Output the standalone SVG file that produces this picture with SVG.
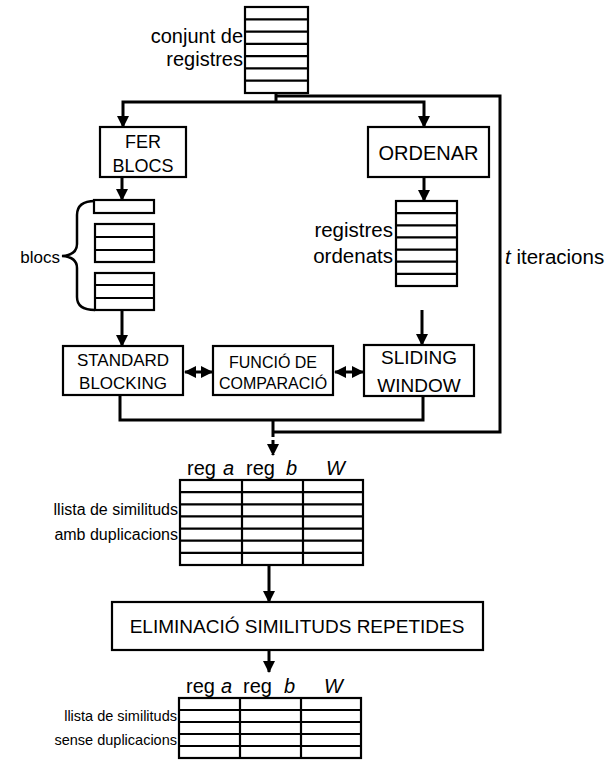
<svg xmlns="http://www.w3.org/2000/svg" width="607" height="760" viewBox="0 0 607 760">
<style>
.bx{fill:#fff;stroke:#000;stroke-width:2.2}
.cell{fill:#fff;stroke:#000;stroke-width:2.2}
.rw{stroke:#000;stroke-width:2.2}
.ln{fill:none;stroke:#000;stroke-width:3}
.t{font-family:"Liberation Sans",Arial,Helvetica,sans-serif;fill:#000}
.i{font-style:italic}
</style>
<defs>
<marker id="ah" markerUnits="userSpaceOnUse" markerWidth="12" markerHeight="12" refX="11" refY="6" orient="auto-start-reverse" viewBox="0 0 12 12">
<path d="M0,0 L12,6 L0,12 z" fill="#000"/>
</marker>
</defs>

<g id="connectors">
<path class="ln" d="M276 93 L276 102"/>
<path class="ln" d="M276 102 L123 102 L123 127" marker-end="url(#ah)"/>
<path class="ln" d="M276 102 L424 102 L424 127" marker-end="url(#ah)"/>
<path class="ln" d="M276 96 L500 96 L500 432 L273 432"/>
<path class="ln" d="M122 177 L122 200" marker-end="url(#ah)"/>
<path class="ln" d="M122 310 L122 346" marker-end="url(#ah)"/>
<path class="ln" d="M424 177 L424 201" marker-end="url(#ah)"/>
<path class="ln" d="M422 310 L422 345" marker-end="url(#ah)"/>
<path class="ln" d="M185 372 L212 372" marker-start="url(#ah)" marker-end="url(#ah)"/>
<path class="ln" d="M335 372 L363 372" marker-start="url(#ah)" marker-end="url(#ah)"/>
<path class="ln" d="M120 396 L120 420 L423 420 L423 396"/>
<path class="ln" d="M273 420 L273 433"/>
<path class="ln" d="M273 433 L273 455" stroke-dasharray="4 3" marker-end="url(#ah)"/>
<path class="ln" d="M269 566 L269 602" marker-end="url(#ah)"/>
<path class="ln" d="M269 650 L269 672" marker-end="url(#ah)"/>
<path fill="none" stroke="#000" stroke-width="2.5" d="M95 201 Q77 201 77 215 L77 244 Q77 255 62 256 Q77 257 77 268 L77 297 Q77 310 95 310"/>
</g>

<g id="conjunt-registres">
<rect class="cell" x="245" y="7" width="63" height="86"/>
<path class="rw" d="M245 19.3H308M245 31.6H308M245 43.9H308M245 56.1H308M245 68.4H308M245 80.7H308"/>
<text class="t" font-size="20" text-anchor="end" x="243" y="43">conjunt de</text>
<text class="t" font-size="20" text-anchor="end" x="243" y="66">registres</text>
</g>

<g id="fer-blocs">
<rect class="bx" x="100" y="127" width="86" height="50"/>
<text class="t" font-size="18" text-anchor="middle" x="143" y="148">FER</text>
<text class="t" font-size="18" text-anchor="middle" x="143" y="172">BLOCS</text>
</g>

<g id="ordenar">
<rect class="bx" x="368" y="127" width="121" height="50"/>
<text class="t" font-size="20" text-anchor="middle" x="428.5" y="160">ORDENAR</text>
</g>

<g id="blocs">
<rect class="cell" x="94" y="200" width="60" height="13"/>
<rect class="cell" x="95" y="224" width="59" height="38"/>
<path class="rw" d="M95 237H154M95 250H154"/>
<rect class="cell" x="95" y="273" width="59" height="37"/>
<path class="rw" d="M95 285H154M95 298H154"/>
<text class="t" font-size="17" text-anchor="end" x="60" y="263">blocs</text>
</g>

<g id="registres-ordenats">
<rect class="cell" x="396" y="201" width="61" height="85"/>
<path class="rw" d="M396 213.1H457M396 225.3H457M396 237.4H457M396 249.6H457M396 261.7H457M396 273.9H457"/>
<text class="t" font-size="20.5" text-anchor="end" x="393" y="237">registres</text>
<text class="t" font-size="20.5" text-anchor="end" x="393" y="263">ordenats</text>
</g>

<g id="iteracions">
<text class="t" font-size="20.5" x="505" y="264"><tspan class="i">t</tspan> iteracions</text>
</g>

<g id="standard-blocking">
<rect class="bx" x="63" y="346" width="120" height="49"/>
<text class="t" font-size="17" text-anchor="middle" x="123" y="366">STANDARD</text>
<text class="t" font-size="17" text-anchor="middle" x="123" y="389">BLOCKING</text>
</g>

<g id="funcio-comparacio">
<rect class="bx" x="213" y="346" width="120" height="49"/>
<text class="t" font-size="16" text-anchor="middle" x="273" y="368">FUNCIÓ DE</text>
<text class="t" font-size="16" text-anchor="middle" x="273" y="389">COMPARACIÓ</text>
</g>

<g id="sliding-window">
<rect class="bx" x="364" y="345" width="110" height="51"/>
<text class="t" font-size="19" text-anchor="middle" x="419" y="364">SLIDING</text>
<text class="t" font-size="19" text-anchor="middle" x="419" y="392">WINDOW</text>
</g>

<g id="llista-amb-duplicacions">
<text class="t" font-size="20" x="187" y="475">reg</text>
<text class="t i" font-size="20" x="223" y="475">a</text>
<text class="t" font-size="20" x="246" y="475">reg</text>
<text class="t i" font-size="20" x="286" y="475">b</text>
<text class="t i" font-size="20" x="326" y="475">W</text>
<rect class="cell" x="180" y="480" width="183" height="85"/>
<path class="rw" d="M180 492.1H363M180 504.3H363M180 516.4H363M180 528.6H363M180 540.7H363M180 552.9H363M242 480V565M303 480V565"/>
<text class="t" font-size="16" text-anchor="end" x="178" y="515">llista de similituds</text>
<text class="t" font-size="16" text-anchor="end" x="178" y="540">amb duplicacions</text>
</g>

<g id="eliminacio">
<rect class="bx" x="112" y="602" width="371" height="48"/>
<text class="t" font-size="19" text-anchor="middle" x="297" y="633">ELIMINACIÓ SIMILITUDS REPETIDES</text>
</g>

<g id="llista-sense-duplicacions">
<text class="t" font-size="20" x="186" y="693">reg</text>
<text class="t i" font-size="20" x="221" y="693">a</text>
<text class="t" font-size="20" x="243" y="693">reg</text>
<text class="t i" font-size="20" x="284" y="693">b</text>
<text class="t i" font-size="20" x="324" y="693">W</text>
<rect class="cell" x="179" y="698" width="182" height="60"/>
<path class="rw" d="M179 710H361M179 722H361M179 734H361M179 746H361M240 698V758M301 698V758"/>
<text class="t" font-size="14.5" text-anchor="end" x="177" y="721">llista de similituds</text>
<text class="t" font-size="14.5" text-anchor="end" x="177" y="745">sense duplicacions</text>
</g>
</svg>
